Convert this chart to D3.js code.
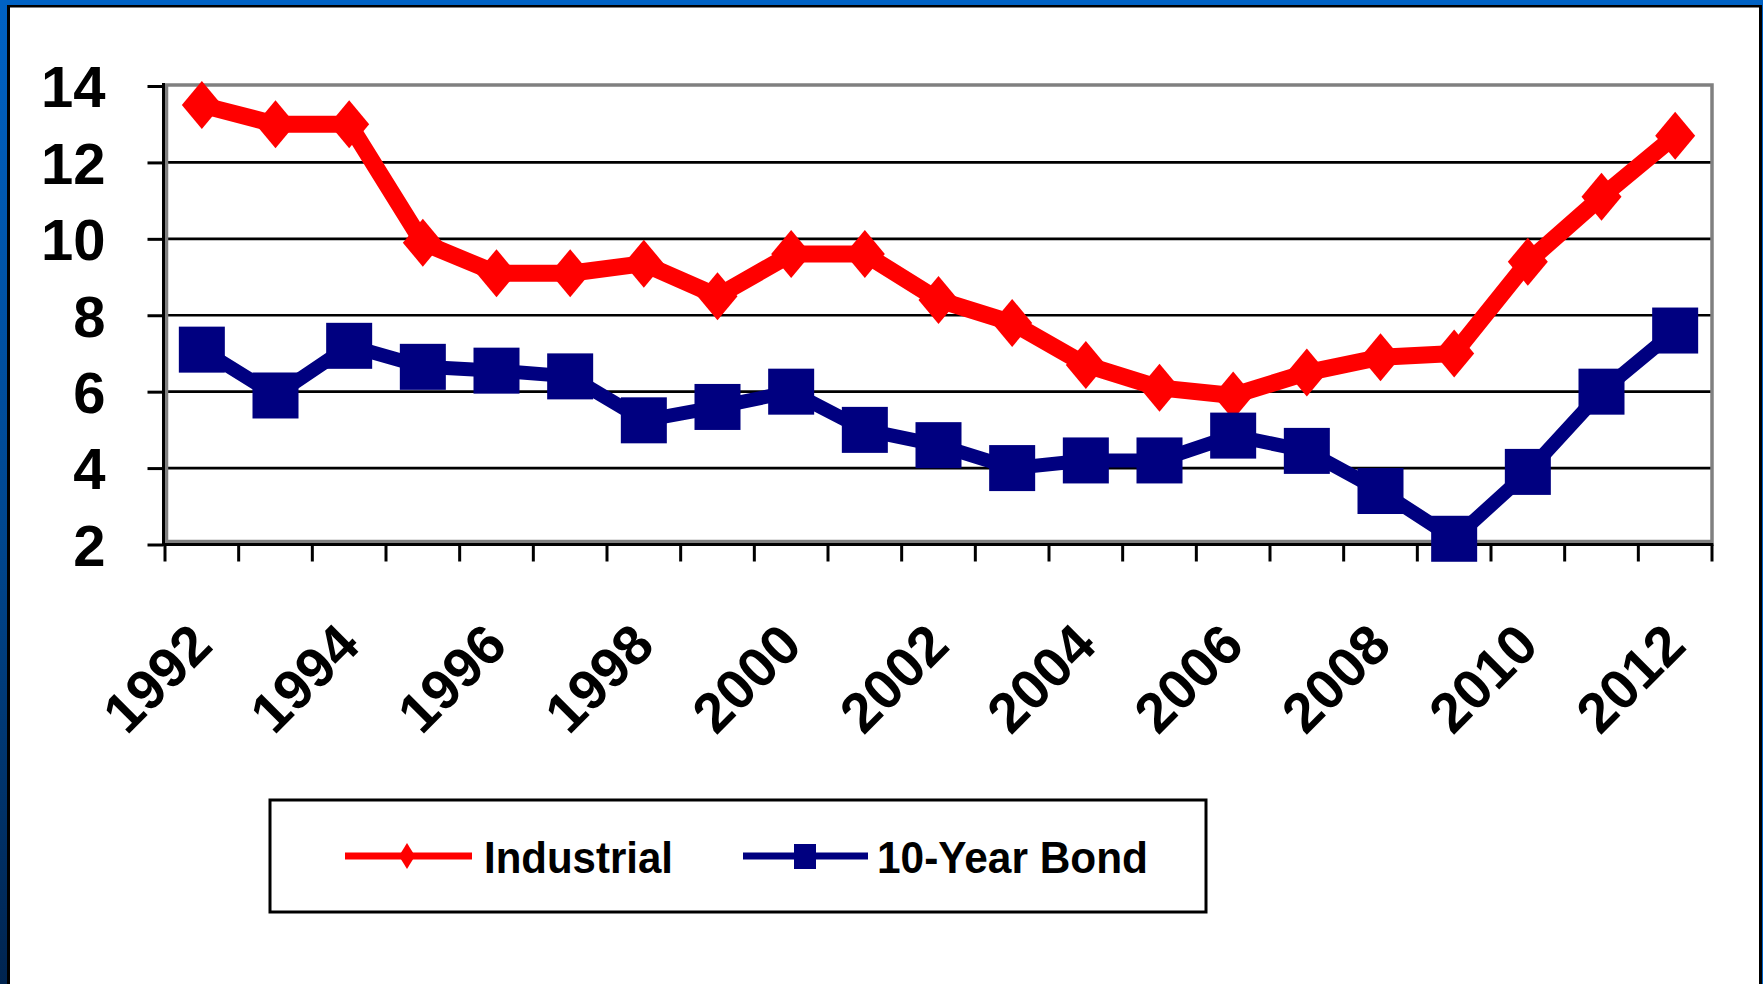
<!DOCTYPE html>
<html lang="en">
<head>
  <meta charset="UTF-8">
  <title>Industrial vs 10-Year Bond</title>
  <style>
    html, body { margin: 0; padding: 0; background: #fff; }
    svg { display: block; }
    text { font-family: "Liberation Sans", Arial, sans-serif; font-weight: bold; fill: #000; }
  </style>
</head>
<body>
  <div id="app"></div>

  <script src="https://cdn.jsdelivr.net/npm/d3@7"></script>
  <script>
    const years = ['1992', '1993', '1994', '1995', '1996', '1997', '1998', '1999', '2000', '2001', '2002',
                   '2003', '2004', '2005', '2006', '2007', '2008', '2009', '2010', '2011', '2012']
    const industrial = [13.5, 13.0, 13.0, 9.9, 9.1, 9.1, 9.35, 8.5, 9.6, 9.6, 8.4,
                        7.8, 6.7, 6.1, 5.9, 6.5, 6.9, 7.0, 9.4, 11.1, 12.7]
    const bond = [7.1, 5.9, 7.2, 6.65, 6.55, 6.4, 5.25, 5.6, 6.0, 5.0, 4.6,
                  4.0, 4.2, 4.2, 4.85, 4.45, 3.4, 2.15, 3.9, 6.0, 7.6]
    const yTicks = [2, 4, 6, 8, 10, 12, 14]
    const xLabels = ['1992', '1994', '1996', '1998', '2000', '2002', '2004', '2006', '2008', '2010', '2012']
    const seriesNames = ['Industrial', '10-Year Bond']

    const W = 1763, H = 984
    const plotLeft = 165, plotRight = 1712, plotTop = 86, plotBottom = 544.5

    const svg = d3.select('#app').append('svg')
      .attr('width', W)
      .attr('height', H)

    // frame around the slide
    const defs = svg.append('defs')
    const grad = defs.append('linearGradient')
      .attr('id', 'edge').attr('x1', 0).attr('y1', 0).attr('x2', 0).attr('y2', 1)
    grad.append('stop').attr('offset', '0%').attr('stop-color', '#0062c4')
    grad.append('stop').attr('offset', '55%').attr('stop-color', '#00468e')
    grad.append('stop').attr('offset', '100%').attr('stop-color', '#002450')

    svg.append('rect').attr('width', W).attr('height', H).attr('fill', '#fff')
    svg.append('rect').attr('x', 0).attr('y', 0).attr('width', 7).attr('height', H).attr('fill', 'url(#edge)')
    svg.append('rect').attr('x', 0).attr('y', 0).attr('width', W).attr('height', 5).attr('fill', '#0062c4')
    svg.append('rect').attr('x', 7).attr('y', 5).attr('width', 3).attr('height', H).attr('fill', '#000')
    svg.append('rect').attr('x', 7).attr('y', 5).attr('width', W - 8).attr('height', 2.5).attr('fill', '#000')
    svg.append('rect').attr('x', 1759).attr('y', 5).attr('width', 3).attr('height', H).attr('fill', '#000')
    svg.append('rect').attr('x', 1762).attr('y', 0).attr('width', 1).attr('height', H).attr('fill', '#0062c4')

    const x = d3.scaleBand().domain(years).range([plotLeft, plotRight]).padding(0)
    const y = d3.scaleLinear().domain([2, 14]).range([plotBottom, plotTop])
    const cx = d => x(d) + x.bandwidth() / 2

    // grid lines
    svg.append('g')
      .selectAll('line')
      .data(yTicks.filter(v => v > 2 && v < 14))
      .join('line')
      .attr('x1', plotLeft).attr('x2', plotRight)
      .attr('y1', d => y(d)).attr('y2', d => y(d))
      .attr('stroke', '#000').attr('stroke-width', 2.6)

    // plot border (grey)
    svg.append('rect')
      .attr('x', plotLeft + 1.5).attr('y', plotTop - 1)
      .attr('width', plotRight - plotLeft - 1.5).attr('height', plotBottom - 3 - plotTop + 1)
      .attr('fill', 'none').attr('stroke', '#808080').attr('stroke-width', 3.5)

    // y axis
    const yAxis = svg.append('g')
      .attr('transform', `translate(${plotLeft - 1.5},0)`)
      .call(d3.axisLeft(y).tickValues(yTicks).tickSize(16).tickPadding(42))
    yAxis.select('.domain').remove()
    yAxis.selectAll('.tick line').attr('stroke', '#000').attr('stroke-width', 3)
    yAxis.selectAll('.tick text')
      .style('font-size', '58px')
      .attr('dy', '0.36em')
    svg.append('line')
      .attr('x1', plotLeft - 1.5).attr('x2', plotLeft - 1.5)
      .attr('y1', plotTop - 3).attr('y2', plotBottom + 1.5)
      .attr('stroke', '#000').attr('stroke-width', 3)

    // x axis: ticks between categories
    svg.append('line')
      .attr('x1', plotLeft - 3).attr('x2', plotRight + 1.5)
      .attr('y1', plotBottom).attr('y2', plotBottom)
      .attr('stroke', '#000').attr('stroke-width', 3)
    const edges = years.map(d => x(d)).concat([plotRight])
    svg.append('g')
      .selectAll('line')
      .data(edges)
      .join('line')
      .attr('x1', d => d).attr('x2', d => d)
      .attr('y1', plotBottom).attr('y2', plotBottom + 17)
      .attr('stroke', '#000').attr('stroke-width', 3)

    svg.append('g')
      .selectAll('text')
      .data(xLabels)
      .join('text')
      .attr('text-anchor', 'end')
      .attr('transform', d => `translate(${cx(d) + 13},648) rotate(-45)`)
      .style('font-size', '56px')
      .text(d => d)

    // series
    const line = d3.line()
      .x((d, i) => cx(years[i]))
      .y(d => y(d))

    const diamond = (w, h) => `M0,${-h}L${w},0L0,${h}L${-w},0Z`

    svg.append('path')
      .datum(industrial)
      .attr('d', line)
      .attr('fill', 'none')
      .attr('stroke', '#ff0000')
      .attr('stroke-width', 17)
      .attr('stroke-linejoin', 'round')

    svg.append('g')
      .selectAll('path')
      .data(industrial)
      .join('path')
      .attr('transform', (d, i) => `translate(${cx(years[i])},${y(d)})`)
      .attr('d', diamond(20, 24))
      .attr('fill', '#ff0000')

    svg.append('path')
      .datum(bond)
      .attr('d', line)
      .attr('fill', 'none')
      .attr('stroke', '#000080')
      .attr('stroke-width', 14)
      .attr('stroke-linejoin', 'round')

    const sq = 46
    svg.append('g')
      .selectAll('rect')
      .data(bond)
      .join('rect')
      .attr('x', (d, i) => cx(years[i]) - sq / 2)
      .attr('y', d => y(d) - sq / 2)
      .attr('width', sq)
      .attr('height', sq)
      .attr('fill', '#000080')

    // legend
    const legend = svg.append('g')
    legend.append('rect')
      .attr('x', 270).attr('y', 800)
      .attr('width', 936).attr('height', 112)
      .attr('fill', '#fff').attr('stroke', '#000').attr('stroke-width', 3)

    const ly = 856
    legend.append('line')
      .attr('x1', 345).attr('x2', 472).attr('y1', ly).attr('y2', ly)
      .attr('stroke', '#ff0000').attr('stroke-width', 7)
    legend.append('path')
      .attr('transform', `translate(407,${ly})`)
      .attr('d', diamond(8, 13))
      .attr('fill', '#ff0000')
    legend.append('text')
      .attr('x', 484).attr('y', 872.5)
      .attr('textLength', 189).attr('lengthAdjust', 'spacingAndGlyphs')
      .style('font-size', '44px')
      .text(seriesNames[0])

    legend.append('line')
      .attr('x1', 743).attr('x2', 868).attr('y1', ly).attr('y2', ly)
      .attr('stroke', '#000080').attr('stroke-width', 7)
    legend.append('rect')
      .attr('x', 794).attr('y', ly - 12).attr('width', 22).attr('height', 25)
      .attr('fill', '#000080')
    legend.append('text')
      .attr('x', 877).attr('y', 872.5)
      .attr('textLength', 271).attr('lengthAdjust', 'spacingAndGlyphs')
      .style('font-size', '44px')
      .text(seriesNames[1])
  </script>
</body>
</html>
